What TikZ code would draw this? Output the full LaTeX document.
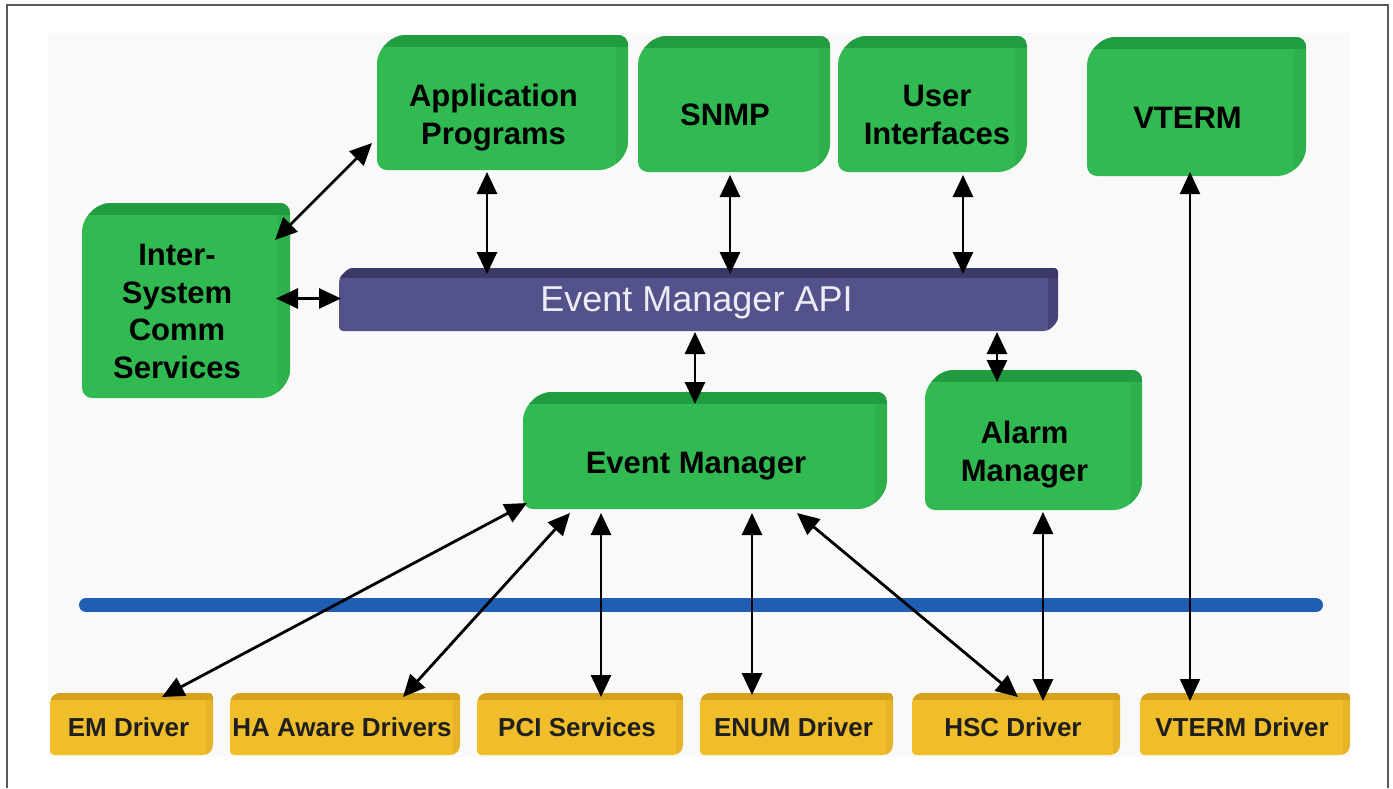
\documentclass[tikz,border=0pt]{standalone}
\usepackage{fontspec}
\setmainfont{Liberation Sans}
\usetikzlibrary{arrows.meta,calc}
\definecolor{gmain}{RGB}{50,186,82}
\definecolor{gtop}{RGB}{34,156,64}
\definecolor{gside}{RGB}{46,176,76}
\definecolor{amain}{RGB}{84,82,138}
\definecolor{atop}{RGB}{58,56,100}
\definecolor{aside}{RGB}{70,68,118}
\definecolor{ymain}{RGB}{240,190,42}
\definecolor{ytop}{RGB}{214,162,30}
\definecolor{yside}{RGB}{230,180,38}
\definecolor{blueline}{RGB}{30,95,180}
\definecolor{bgc}{RGB}{249,249,249}
\definecolor{apitext}{RGB}{236,236,246}
\definecolor{framec}{RGB}{90,90,90}
\newcommand\silhouette[1]{(\x1,\y1-#1) -- (\x1+#1,\y1) -- (\x2,\y1) -- (\x2,\y2+#1) -- (\x2-#1,\y2) -- (\x1,\y2) -- cycle}
\newcommand\boxpic[6]{%
  \fill[#3,rounded corners=#6] let \p1=(path picture bounding box.north west), \p2=(path picture bounding box.south east) in \silhouette{#1};
  \begin{scope}
    \clip[rounded corners=#6] let \p1=(path picture bounding box.north west), \p2=(path picture bounding box.south east) in \silhouette{#1};
    \fill[#5] let \p1=(path picture bounding box.north west), \p2=(path picture bounding box.south east) in (\x2-#2,\y1) rectangle (\x2,\y2);
    \fill[#4] let \p1=(path picture bounding box.north west), \p2=(path picture bounding box.south east) in (\x1,\y1) rectangle (\x2,\y1-#2);
  \end{scope}}
\begin{document}
\begin{tikzpicture}[x=0.5pt,y=-0.5pt,
  basebox/.style={rectangle, inner sep=0pt, outer sep=0pt},
  gbox/.style={basebox, path picture={\boxpic{9pt}{6pt}{gmain}{gtop}{gside}{5pt}}},
  apibox/.style={basebox, path picture={\boxpic{5pt}{5pt}{amain}{atop}{aside}{2pt}}},
  ybox/.style={basebox, minimum height=31pt, path picture={\boxpic{3pt}{3.5pt}{ymain}{ytop}{yside}{2pt}}},
  gtext/.style={font={\fontsize{15.5}{18.7}\selectfont\bfseries}, align=center, text=black, inner sep=0pt, xshift=-4.5pt, yshift=-5.5pt},
  atext/.style={font={\fontsize{18}{20}\selectfont}, text=apitext, inner sep=0pt, xshift=-1pt, yshift=-1.5pt},
  ytext/.style={font={\fontsize{13}{15}\selectfont\bfseries}, text=black!88, inner sep=0pt, xshift=-1.5pt, yshift=-1.5pt},
  biarrow/.style={{Triangle[length=11pt,width=10pt]}-{Triangle[length=11pt,width=10pt]}, line width=1.4pt, black},
  thinarrow/.style={{Triangle[length=11pt,width=10pt]}-{Triangle[length=11pt,width=10pt]}, line width=1pt, black}
]
\useasboundingbox (0,0) rectangle (1393,788);
\fill[white] (0,0) rectangle (1393,788);
\fill[bgc] (48,33) rectangle (1350,757);
\draw[framec, line width=1pt] (7,788) -- (7,5) -- (1388,5) -- (1388,788);
\draw[blueline, line width=7pt, line cap=round] (86,605) -- (1316,605);

% green boxes
\node[gbox, minimum width=125.5pt, minimum height=67.5pt, label={[gtext,yshift=-2pt]center:Application\\Programs}] (app) at (502.5,102.5) {};
\node[gbox, minimum width=96pt, minimum height=68pt, label={[gtext]center:SNMP}] (snmp) at (734,104) {};
\node[gbox, minimum width=94.5pt, minimum height=68pt, label={[gtext,xshift=6.75pt]center:User\\Interfaces}] (ui) at (932.5,104) {};
\node[gbox, minimum width=109.5pt, minimum height=69.5pt, label={[gtext]center:VTERM}] (vterm) at (1196.5,106.5) {};
\node[gbox, minimum width=104pt, minimum height=97.5pt, label={[gtext]center:Inter-\\System\\Comm\\Services}] (isc) at (186,300.5) {};
\node[gbox, minimum width=182pt, minimum height=58.5pt, label={[gtext,yshift=-2.5pt]center:Event Manager}] (em) at (705,450.5) {};
\node[gbox, minimum width=108.5pt, minimum height=70pt, label={[gtext,yshift=-1.75pt]center:Alarm\\Manager}] (alarm) at (1033.5,440) {};

% API bar
\node[apibox, minimum width=359.5pt, minimum height=31.5pt, label={[atext]center:Event Manager API}] (api) at (698.5,299.5) {};

% yellow boxes
\node[ybox, minimum width=81.5pt, label={[ytext]center:EM Driver}] (emd) at (131.5,724) {};
\node[ybox, minimum width=115pt, label={[ytext]center:HA Aware Drivers}] (ha) at (345,724) {};
\node[ybox, minimum width=103pt, label={[ytext]center:PCI Services}] (pci) at (580,724) {};
\node[ybox, minimum width=96.5pt, label={[ytext]center:ENUM Driver}] (enum) at (796.5,724) {};
\node[ybox, minimum width=104pt, label={[ytext]center:HSC Driver}] (hsc) at (1016,724) {};
\node[ybox, minimum width=105pt, label={[ytext]center:VTERM Driver}] (vtd) at (1245,724) {};

% connectors
\draw[biarrow] ($(isc.north east)+(-15,37)$) -- ($(app.south west)+(-5,-27)$);
\draw[biarrow] ($(isc.east)+(-14,-2)$) -- ($(api.west)+(2,-1)$);
\draw[biarrow] ($(app.south)+(-15.5,2)$) -- ($(app.south|-api.north)+(-15.5,6)$);
\draw[biarrow] ($(snmp.south)+(-4,3)$) -- ($(snmp.south|-api.north)+(-4,6)$);
\draw[biarrow] ($(ui.south)+(30.5,3)$) -- ($(ui.south|-api.north)+(30.5,6)$);
\draw[biarrow] ($(em.north|-api.south)+(-10,1)$) -- ($(em.north)+(-10,12)$);
\draw[biarrow] ($(alarm.north|-api.south)+(-36.5,1)$) -- ($(alarm.north)+(-36.5,12)$);
\draw[thinarrow] ($(vterm.south)+(-6.5,-4)$) -- ($(vterm.south|-vtd.north)+(-6.5,8)$);
\draw[biarrow] ($(alarm.south)+(9.5,2)$) -- ($(alarm.south|-hsc.north)+(9.5,8)$);
\draw[biarrow] ($(em.south west)+(4,-6)$) -- ($(emd.north)+(30.5,4)$);
\draw[biarrow] ($(em.south)+(-135,4)$) -- ($(ha.north)+(58,4)$);
\draw[biarrow] ($(em.south)+(-104,4)$) -- ($(em.south|-pci.north)+(-104,4)$);
\draw[biarrow] ($(em.south)+(47,4)$) -- ($(em.south|-enum.north)+(47,2)$);
\draw[biarrow] ($(em.south)+(92,4)$) -- ($(hsc.north)+(2,4)$);
\end{tikzpicture}
\end{document}
